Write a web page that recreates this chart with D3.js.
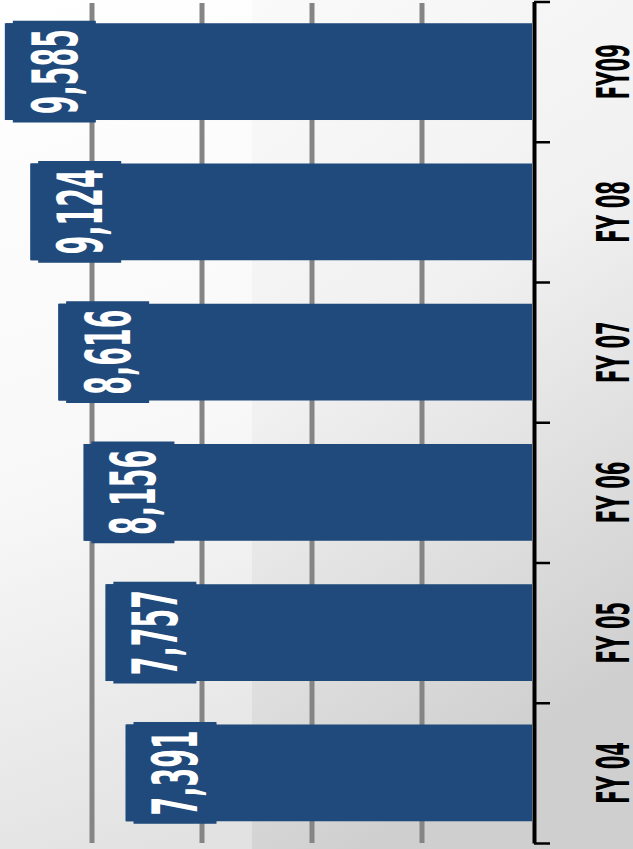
<!DOCTYPE html>
<html>
<head>
<meta charset="utf-8">
<script src="https://cdn.jsdelivr.net/npm/d3@7"></script>
<style>
  html, body { margin: 0; padding: 0; }
  body { width: 633px; height: 849px; overflow: hidden; }
  #chart text { font-family: "Liberation Sans Narrow", "DejaVu Sans Condensed", "Liberation Sans", sans-serif; font-weight: bold; }
</style>
</head>
<body>
<div id="chart"></div>
<script>
// data, top to bottom as drawn
const years = ['FY09', 'FY 08', 'FY 07', 'FY 06', 'FY 05', 'FY 04'];
const values = [9585, 9124, 8616, 8156, 7757, 7391];
const gridTicks = [0, 2000, 4000, 6000, 8000, 10000];

const width = 633, height = 849;

const svg = d3.select('#chart').append('svg')
  .attr('width', width)
  .attr('height', height);

// background
const defs = svg.append('defs');
const g1 = defs.append('linearGradient').attr('id', 'bgL')
  .attr('x1', 0).attr('y1', 0).attr('x2', 0.25).attr('y2', 1);
g1.append('stop').attr('offset', '0%').attr('stop-color', '#ffffff');
g1.append('stop').attr('offset', '55%').attr('stop-color', '#f8f8f8');
g1.append('stop').attr('offset', '100%').attr('stop-color', '#e2e2e2');
const g2 = defs.append('linearGradient').attr('id', 'bgR')
  .attr('x1', 0).attr('y1', 0).attr('x2', 0.3).attr('y2', 1);
g2.append('stop').attr('offset', '0%').attr('stop-color', '#fafafa');
g2.append('stop').attr('offset', '45%').attr('stop-color', '#f1f1f1');
g2.append('stop').attr('offset', '100%').attr('stop-color', '#cfcfcf');

svg.append('rect').attr('width', width).attr('height', height).attr('fill', 'url(#bgL)');
svg.append('rect').attr('x', 252).attr('width', width - 252).attr('height', height).attr('fill', 'url(#bgR)');

const x = d3.scaleLinear().domain([0, 10000]).range([532, -18]);
const y = d3.scaleBand().domain(years).range([1.5, 843]).paddingInner(0.31).paddingOuter(0.155);

// gridlines (the zero line sits under the axis)
svg.append('g')
  .selectAll('line')
  .data(gridTicks.filter(d => d > 0))
  .join('line')
    .attr('x1', d => x(d)).attr('x2', d => x(d))
    .attr('y1', 3).attr('y2', 843)
    .attr('stroke', '#858585')
    .attr('stroke-width', 5);

// bars
svg.append('g')
  .selectAll('rect')
  .data(values)
  .join('rect')
    .attr('x', d => x(d))
    .attr('y', (d, i) => y(years[i]))
    .attr('width', d => x(0) - x(d))
    .attr('height', y.bandwidth())
    .attr('fill', '#214a7c');

// label boxes
const lab = svg.append('g')
  .selectAll('g')
  .data(values)
  .join('g')
    .attr('transform', (d, i) => `translate(${x(d) + 1},${y(years[i])})`);

lab.append('rect')
  .attr('width', 90).attr('height', y.bandwidth())
  .attr('fill', '#214a7c');
lab.append('rect')
  .attr('x', 7).attr('y', -2.5)
  .attr('width', 83).attr('height', y.bandwidth() + 5)
  .attr('fill', '#214a7c');

lab.append('text')
  .attr('transform', `translate(71,${y.bandwidth() / 2}) rotate(-90)`)
  .attr('text-anchor', 'middle')
  .attr('fill', '#ffffff')
  .style('font-size', '63px')
  .attr('textLength', 85)
  .attr('lengthAdjust', 'spacingAndGlyphs')
  .text(d => d3.format(',')(d));

// axis with ticks at band edges
const edges = d3.scaleLinear().domain([0, years.length]).range(y.range());
const axis = svg.append('g')
  .attr('transform', 'translate(534,0)')
  .call(d3.axisRight(edges).tickValues(d3.range(years.length + 1)).tickSize(16).tickSizeOuter(0).tickFormat(''));
axis.select('.domain').attr('stroke', '#000').attr('stroke-width', 4);
axis.selectAll('.tick line').attr('stroke', '#000').attr('stroke-width', 2.5);

// category labels
const cats = svg.append('g')
  .selectAll('text')
  .data(years)
  .join('text')
    .attr('transform', d => `translate(629,${y(d) + y.bandwidth() / 2}) rotate(-90)`)
    .attr('text-anchor', 'middle')
    .attr('fill', '#000')
    .style('font-size', '45px')
    .text(d => d);

const squash = 55 / cats.node().getComputedTextLength();
cats.each(function() {
  const w = this.getComputedTextLength();
  d3.select(this).attr('textLength', w * squash).attr('lengthAdjust', 'spacingAndGlyphs');
});
</script>
</body>
</html>
